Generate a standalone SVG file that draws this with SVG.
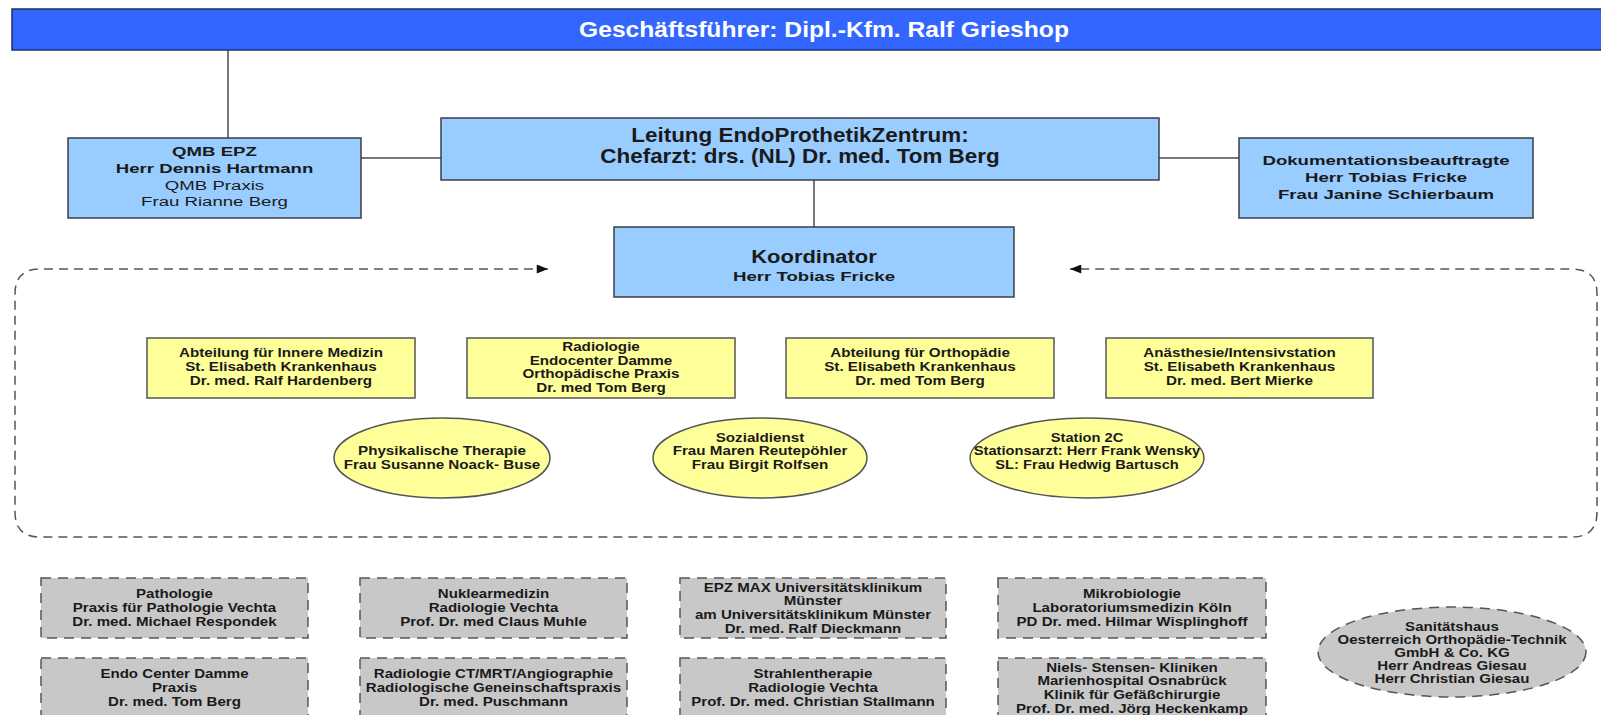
<svg xmlns="http://www.w3.org/2000/svg" width="1601" height="715" viewBox="0 0 1601 715">
<style>
text{font-family:"Liberation Sans",Arial,sans-serif;text-anchor:middle;fill:#1a1a1a;font-weight:bold}
.reg{font-weight:normal}
.f13{font-size:13px}
.f135{font-size:13.5px}
.f18{font-size:18px}
.f195{font-size:19.5px}
.title{font-size:22px;fill:#ffffff}
.blue{fill:#99ccff;stroke:#3a3f4a;stroke-width:1.5}
.yel{fill:#ffff99;stroke:#555555;stroke-width:1.5}
.grey{fill:#c8c8c8;stroke:#555555;stroke-width:1.5;stroke-dasharray:10 7}
.line{stroke:#4a4a4a;stroke-width:1.5;fill:none}
.dash{stroke:#555555;stroke-width:1.5;fill:none;stroke-dasharray:9 6}
</style>
<defs>
<marker id="arr" viewBox="0 0 10 8" refX="10" refY="4" markerWidth="12" markerHeight="9" markerUnits="userSpaceOnUse" orient="auto-start-reverse">
<path d="M0,0 L10,4 L0,8 z" fill="#111111"/>
</marker>
</defs>
<rect width="1601" height="715" fill="#ffffff"/>

<g id="connectors">
<line class="line" x1="228" y1="50" x2="228" y2="138"/>
<line class="line" x1="361" y1="158" x2="441" y2="158"/>
<line class="line" x1="1159" y1="158" x2="1239" y2="158"/>
<line class="line" x1="814" y1="180" x2="814" y2="227"/>
<path class="dash" d="M548,269 H40 Q15,269 15,294 V512 Q15,537 40,537 H1572 Q1597,537 1597,512 V294 Q1597,269 1572,269 H1070" marker-start="url(#arr)" marker-end="url(#arr)"/>
</g>

<g id="geschaeftsfuehrer">
<rect x="12" y="9" width="1600" height="41" fill="#3366ff" stroke="#1f2f70" stroke-width="1.5"/>
<g transform="translate(824 0) scale(1.12 1)"><text class="title" x="0" y="37">Geschäftsführer: Dipl.-Kfm. Ralf Grieshop</text></g>
</g>

<g id="qmb">
<rect class="blue" x="68" y="138" width="293" height="80"/>
<g transform="translate(214.5 0) scale(1.38 1)">
<text class="f135" x="0" y="156">QMB EPZ</text>
<text class="f135" x="0" y="173">Herr Dennis Hartmann</text>
<text class="f135 reg" x="0" y="190">QMB Praxis</text>
<text class="f135 reg" x="0" y="206">Frau Rianne Berg</text>
</g>
</g>

<g id="leitung">
<rect class="blue" x="441" y="118" width="718" height="62"/>
<g transform="translate(800 0) scale(1.15 1)">
<text class="f195" x="0" y="142">Leitung EndoProthetikZentrum:</text>
<text class="f195" x="0" y="163">Chefarzt: drs. (NL) Dr. med. Tom Berg</text>
</g>
</g>

<g id="dokumentation">
<rect class="blue" x="1239" y="138" width="294" height="80"/>
<g transform="translate(1386 0) scale(1.38 1)">
<text class="f135" x="0" y="165">Dokumentationsbeauftragte</text>
<text class="f135" x="0" y="182">Herr Tobias Fricke</text>
<text class="f135" x="0" y="199">Frau Janine Schierbaum</text>
</g>
</g>

<g id="koordinator">
<rect class="blue" x="614" y="227" width="400" height="70"/>
<g transform="translate(814 0) scale(1.22 1)"><text class="f18" x="0" y="263">Koordinator</text></g>
<g transform="translate(814 0) scale(1.38 1)"><text class="f135" x="0" y="281">Herr Tobias Fricke</text></g>
</g>

<g id="innere-medizin">
<rect class="yel" x="147" y="338" width="268" height="60"/>
<g transform="translate(281 0) scale(1.17 1)">
<text class="f13" x="0" y="357">Abteilung für Innere Medizin</text>
<text class="f13" x="0" y="371">St. Elisabeth Krankenhaus</text>
<text class="f13" x="0" y="385">Dr. med. Ralf Hardenberg</text>
</g>
</g>

<g id="radiologie">
<rect class="yel" x="467" y="338" width="268" height="60"/>
<g transform="translate(601 0) scale(1.17 1)">
<text class="f13" x="0" y="351">Radiologie</text>
<text class="f13" x="0" y="365">Endocenter Damme</text>
<text class="f13" x="0" y="378">Orthopädische Praxis</text>
<text class="f13" x="0" y="392">Dr. med Tom Berg</text>
</g>
</g>

<g id="orthopaedie">
<rect class="yel" x="786" y="338" width="268" height="60"/>
<g transform="translate(920 0) scale(1.17 1)">
<text class="f13" x="0" y="357">Abteilung für Orthopädie</text>
<text class="f13" x="0" y="371">St. Elisabeth Krankenhaus</text>
<text class="f13" x="0" y="385">Dr. med Tom Berg</text>
</g>
</g>

<g id="anaesthesie">
<rect class="yel" x="1106" y="338" width="267" height="60"/>
<g transform="translate(1239.5 0) scale(1.17 1)">
<text class="f13" x="0" y="357">Anästhesie/Intensivstation</text>
<text class="f13" x="0" y="371">St. Elisabeth Krankenhaus</text>
<text class="f13" x="0" y="385">Dr. med. Bert  Mierke</text>
</g>
</g>

<g id="physio">
<ellipse class="yel" cx="442" cy="458" rx="108" ry="40"/>
<g transform="translate(442 0) scale(1.17 1)">
<text class="f13" x="0" y="455">Physikalische Therapie</text>
<text class="f13" x="0" y="469">Frau Susanne Noack- Buse</text>
</g>
</g>

<g id="sozialdienst">
<ellipse class="yel" cx="760" cy="458" rx="107" ry="40"/>
<g transform="translate(760 0) scale(1.17 1)">
<text class="f13" x="0" y="442">Sozialdienst</text>
<text class="f13" x="0" y="455">Frau Maren Reutepöhler</text>
<text class="f13" x="0" y="469">Frau Birgit Rolfsen</text>
</g>
</g>

<g id="station2c">
<ellipse class="yel" cx="1087" cy="458" rx="117" ry="40"/>
<g transform="translate(1087 0) scale(1.13 1)">
<text class="f13" x="0" y="442">Station 2C</text>
<text class="f13" x="0" y="455">Stationsarzt: Herr Frank Wensky</text>
<text class="f13" x="0" y="469">SL: Frau Hedwig Bartusch</text>
</g>
</g>

<g id="pathologie">
<rect class="grey" x="41" y="578" width="267" height="60"/>
<g transform="translate(174.5 0) scale(1.16 1)">
<text class="f13" x="0" y="598">Pathologie</text>
<text class="f13" x="0" y="612">Praxis für Pathologie Vechta</text>
<text class="f13" x="0" y="626">Dr. med. Michael Respondek</text>
</g>
</g>

<g id="nuklearmedizin">
<rect class="grey" x="360" y="578" width="267" height="60"/>
<g transform="translate(493.5 0) scale(1.16 1)">
<text class="f13" x="0" y="598">Nuklearmedizin</text>
<text class="f13" x="0" y="612">Radiologie Vechta</text>
<text class="f13" x="0" y="626">Prof. Dr. med Claus Muhle</text>
</g>
</g>

<g id="epz-max">
<rect class="grey" x="680" y="578" width="266" height="60"/>
<g transform="translate(813 0) scale(1.16 1)">
<text class="f13" x="0" y="592">EPZ MAX Universitätsklinikum</text>
<text class="f13" x="0" y="605">Münster</text>
<text class="f13" x="0" y="619">am Universitätsklinikum Münster</text>
<text class="f13" x="0" y="633">Dr. med. Ralf Dieckmann</text>
</g>
</g>

<g id="mikrobiologie">
<rect class="grey" x="998" y="578" width="268" height="60"/>
<g transform="translate(1132 0) scale(1.16 1)">
<text class="f13" x="0" y="598">Mikrobiologie</text>
<text class="f13" x="0" y="612">Laboratoriumsmedizin Köln</text>
<text class="f13" x="0" y="626">PD Dr. med. Hilmar Wisplinghoff</text>
</g>
</g>

<g id="endo-center">
<rect class="grey" x="41" y="658" width="267" height="70"/>
<g transform="translate(174.5 0) scale(1.16 1)">
<text class="f13" x="0" y="678">Endo Center Damme</text>
<text class="f13" x="0" y="692">Praxis</text>
<text class="f13" x="0" y="706">Dr. med. Tom Berg</text>
</g>
</g>

<g id="radiologie-ct">
<rect class="grey" x="360" y="658" width="267" height="70"/>
<g transform="translate(493.5 0) scale(1.16 1)">
<text class="f13" x="0" y="678">Radiologie CT/MRT/Angiographie</text>
<text class="f13" x="0" y="692">Radiologische Geneinschaftspraxis</text>
<text class="f13" x="0" y="706">Dr. med. Puschmann</text>
</g>
</g>

<g id="strahlentherapie">
<rect class="grey" x="680" y="658" width="266" height="70"/>
<g transform="translate(813 0) scale(1.16 1)">
<text class="f13" x="0" y="678">Strahlentherapie</text>
<text class="f13" x="0" y="692">Radiologie Vechta</text>
<text class="f13" x="0" y="706">Prof. Dr. med. Christian Stallmann</text>
</g>
</g>

<g id="niels-stensen">
<rect class="grey" x="998" y="658" width="268" height="70"/>
<g transform="translate(1132 0) scale(1.16 1)">
<text class="f13" x="0" y="672">Niels- Stensen- Kliniken</text>
<text class="f13" x="0" y="685">Marienhospital Osnabrück</text>
<text class="f13" x="0" y="699">Klinik für Gefäßchirurgie</text>
<text class="f13" x="0" y="713">Prof. Dr. med. Jörg Heckenkamp</text>
</g>
</g>

<g id="sanitaetshaus">
<ellipse class="grey" cx="1452" cy="652" rx="134" ry="45"/>
<g transform="translate(1452 0) scale(1.16 1)">
<text class="f13" x="0" y="631">Sanitätshaus</text>
<text class="f13" x="0" y="644">Oesterreich Orthopädie-Technik</text>
<text class="f13" x="0" y="657">GmbH &amp; Co. KG</text>
<text class="f13" x="0" y="670">Herr Andreas Giesau</text>
<text class="f13" x="0" y="683">Herr Christian Giesau</text>
</g>
</g>
</svg>
